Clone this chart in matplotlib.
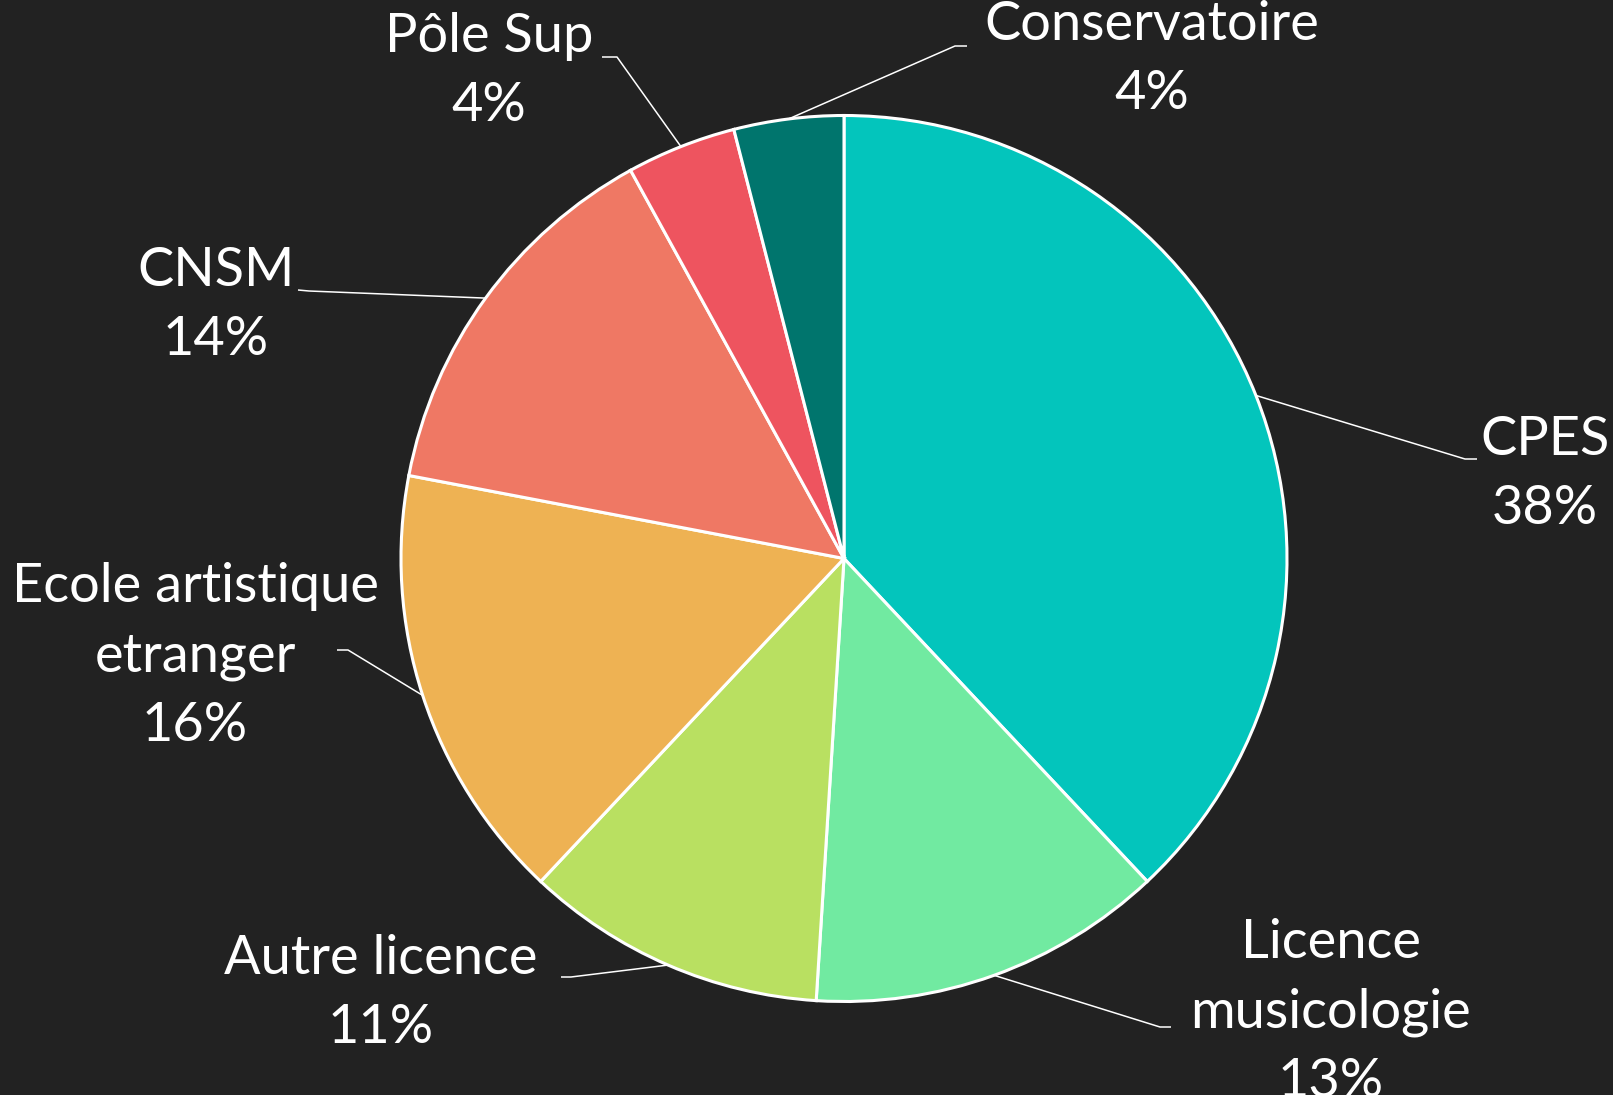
import matplotlib
matplotlib.use('Agg')
import matplotlib.pyplot as plt
import numpy as np

W, H = 1613, 1095

labels = ['CPES', 'Licence\nmusicologie', 'Autre licence', 'Ecole artistique\netranger',
          'CNSM', 'Pôle Sup', 'Conservatoire']
values = [38, 13, 11, 16, 14, 4, 4]
colors = ['#03C5BC', '#71EAA1', '#B9E061', '#EEB253', '#EF7864', '#EE545F', '#00756D']

# label block centres and leader elbows, in pixels from top-left
text_pos = [(1545, 474), (1331, 1012), (381, 993), (195, 656), (216, 305), (489, 71), (1152, 59)]
elbow = [(1465, 459), (1160, 1027), (571, 977), (348, 650), (309, 291), (617, 57), (955, 46)]
elbow_end = [(1477, 459), (1171, 1027), (561, 977), (337, 650), (298, 290), (602, 57), (967, 46)]

bg = '#222222'
cx, cy, r = 844, 558.5, 443

fig = plt.figure(figsize=(W / 100, H / 100), dpi=100, facecolor=bg)
ax = fig.add_axes([0, 0, 1, 1])
ax.set_facecolor(bg)

def flip(p):
    return (p[0], H - p[1])

wedges, _ = ax.pie(values, colors=colors, startangle=90, counterclock=False,
                   center=(cx, H - cy), radius=r,
                   wedgeprops=dict(edgecolor='white', linewidth=2.2))
ax.set_xlim(0, W)
ax.set_ylim(0, H)
ax.set_aspect('equal')
ax.axis('off')

total = sum(values)
for i, w in enumerate(wedges):
    mid = np.deg2rad((w.theta1 + w.theta2) / 2)
    ex, ey = cx + r * np.cos(mid), (H - cy) + r * np.sin(mid)
    bx, by = flip(elbow[i])
    hx, hy = flip(elbow_end[i])
    ax.plot([ex, bx, hx], [ey, by, hy], color='white', lw=1.1, solid_capstyle='butt')
    pct = '{:.0f}%'.format(100 * values[i] / total)
    tx, ty = flip(text_pos[i])
    ax.text(tx, ty, labels[i] + '\n' + pct, ha='center', va='center', multialignment='center',
            color='white', fontsize=39, family='Lato', linespacing=1.5)

fig.savefig('out.png', dpi=100, facecolor=bg)
